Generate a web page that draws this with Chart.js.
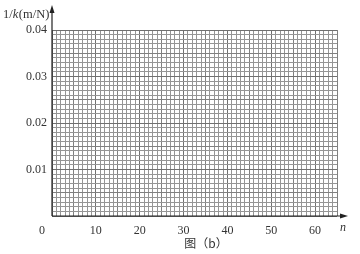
<!DOCTYPE html>
<html>
<head>
<meta charset="utf-8">
<script src="https://cdn.jsdelivr.net/npm/chart.js@4/dist/chart.umd.min.js"></script>
<style>
html,body{margin:0;padding:0;background:#fff;}
#wrap{width:360px;height:254px;position:relative;}
</style>
</head>
<body>
<div id="wrap"><canvas id="c" width="360" height="254"></canvas></div>
<script>
// Axis ranges and tick labels
const xMin = 0;
const xMax = 65;
const xLabelValues = [10, 20, 30, 40, 50, 60];
const yMin = 0;
const yMax = 0.04;
const yLabelValues = [0.01, 0.02, 0.03, 0.04];
const xTitle = 'n';
const yTitleParts = ['1/', 'k', '(m/N)'];
const caption = '图（b）';
const points = []; // blank graph paper: no plotted data

const serif = '"Liberation Serif", "DejaVu Serif", serif';

const decor = {
  id: 'decor',
  afterDraw(chart) {
    const ctx = chart.ctx;
    const xs = chart.scales.x, ys = chart.scales.y;
    const ox = xs.getPixelForValue(0), oy = ys.getPixelForValue(0);
    const topY = 5, rightX = 348;
    ctx.save();
    ctx.strokeStyle = '#222';
    ctx.fillStyle = '#222';
    ctx.lineWidth = 1.2;
    ctx.beginPath();
    ctx.moveTo(ox, oy); ctx.lineTo(ox, topY + 4);
    ctx.moveTo(ox, oy); ctx.lineTo(rightX - 4, oy);
    ctx.stroke();
    // arrowheads
    ctx.beginPath();
    ctx.moveTo(ox, topY); ctx.lineTo(ox - 2.5, topY + 8); ctx.lineTo(ox + 2.5, topY + 8); ctx.closePath();
    ctx.fill();
    ctx.beginPath();
    ctx.moveTo(rightX, oy); ctx.lineTo(rightX - 8, oy - 2.5); ctx.lineTo(rightX - 8, oy + 2.5); ctx.closePath();
    ctx.fill();

    ctx.fillStyle = '#333';
    ctx.textBaseline = 'middle';
    // origin label
    ctx.font = '12px ' + serif;
    ctx.textAlign = 'center';
    ctx.fillText('0', ox - 10, 231);
    // x title
    ctx.font = 'italic 12px ' + serif;
    ctx.fillText(xTitle, 343, 228);
    // y title with italic k
    ctx.textAlign = 'left';
    let x = 3;
    const fonts = ['12.5px ' + serif, 'italic 12.5px ' + serif, '12.5px ' + serif];
    yTitleParts.forEach((p, i) => {
      ctx.font = fonts[i];
      ctx.fillText(p, x, 15);
      x += ctx.measureText(p).width + (i === 1 ? 0.5 : 0);
    });
    // caption
    ctx.textAlign = 'center';
    ctx.font = '12px "Noto Sans CJK SC", sans-serif';
    ctx.fillText(caption, 206, 243);
    ctx.restore();
  }
};

function xGridColor(c) {
  const v = Math.round(c.tick ? c.tick.value : 0);
  if (v % 10 === 0) return '#707070';
  if (v % 5 === 0) return '#808080';
  return '#959595';
}
function yGridColor(c) {
  const v = Math.round((c.tick ? c.tick.value : 0) * 1000);
  if (v % 10 === 0) return '#707070';
  if (v % 5 === 0) return '#808080';
  return '#959595';
}

new Chart(document.getElementById('c'), {
  type: 'scatter',
  data: { datasets: [{ data: points, pointRadius: 0 }] },
  plugins: [decor],
  options: {
    responsive: false,
    animation: false,
    layout: { padding: { top: 30, right: 23, left: 0, bottom: 0 } },
    plugins: { legend: { display: false }, tooltip: { enabled: false } },
    scales: {
      x: {
        type: 'linear', min: xMin, max: xMax,
        afterFit: s => { s.height = 38; },
        border: { display: false },
        grid: { color: xGridColor, lineWidth: 1, drawTicks: false },
        ticks: {
          stepSize: 1, autoSkip: false, maxRotation: 0, maxTicksLimit: 1000,
          padding: 8, color: '#333',
          font: { family: serif, size: 12 },
          callback: v => xLabelValues.includes(Math.round(v)) && Math.abs(v - Math.round(v)) < 1e-6 ? String(Math.round(v)) : ''
        }
      },
      y: {
        type: 'linear', min: yMin, max: yMax,
        afterFit: s => { s.width = 52; },
        border: { display: false },
        grid: { color: yGridColor, lineWidth: 1, drawTicks: false },
        ticks: {
          stepSize: 0.001, autoSkip: false, maxTicksLimit: 1000,
          padding: 5, color: '#333',
          font: { family: serif, size: 12 },
          callback: v => {
            const m = Math.round(v * 1000);
            const hit = yLabelValues.find(t => Math.round(t * 1000) === m);
            return hit !== undefined ? hit.toFixed(2) : '';
          }
        }
      }
    }
  }
});
</script>
</body>
</html>
